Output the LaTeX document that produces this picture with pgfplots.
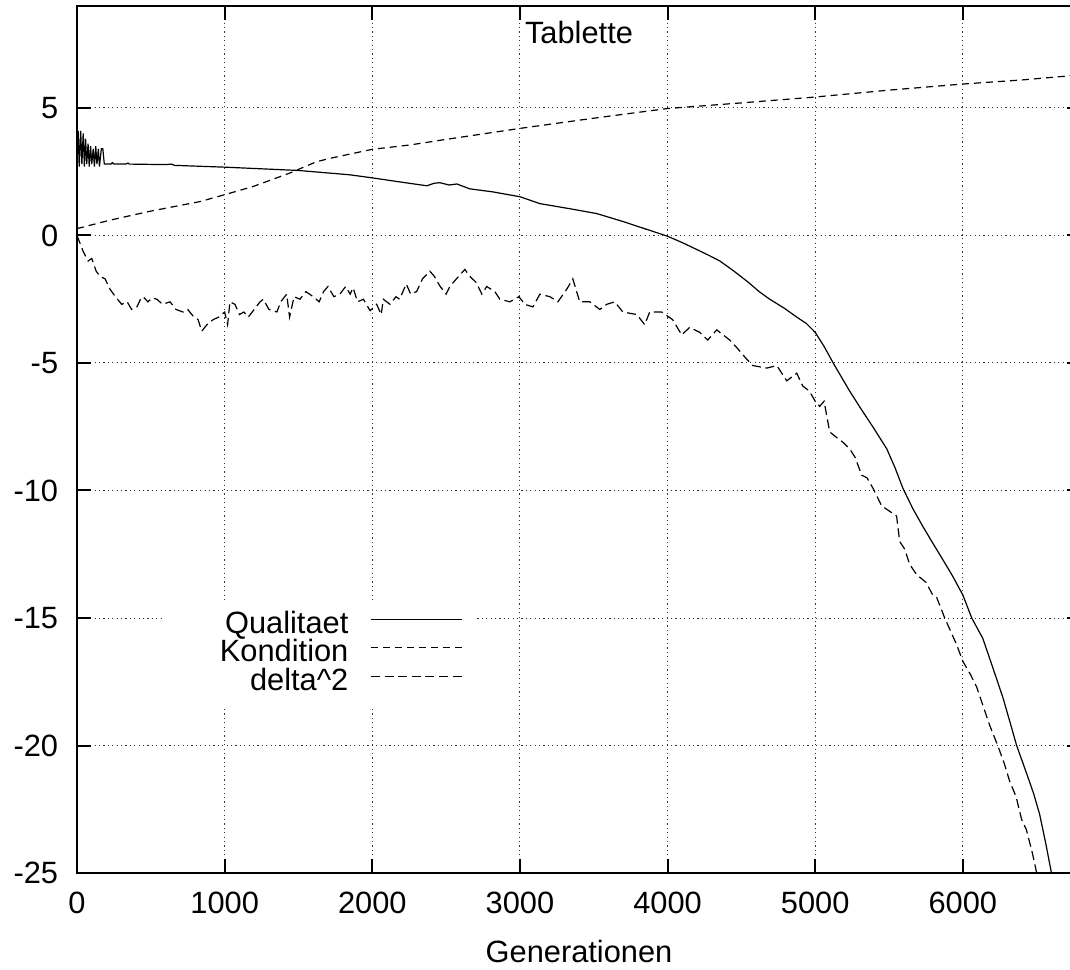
\documentclass[border=0pt]{standalone}
\usepackage{fontspec}
\setmainfont{Liberation Sans}
\usepackage{pgfplots}
\pgfplotsset{compat=1.18}
\newcommand{\ff}{\fontsize{15.4}{18}\selectfont}
\begin{document}
\begin{tikzpicture}
\begin{axis}[
  scale only axis, width=502pt, height=433.5pt,
  xmin=0, xmax=6800, ymin=-25, ymax=9,
  xtick={0,1000,...,6000}, ytick={-25,-20,...,5},
  grid=major,
  major grid style={black!80, line width=0.5pt, dash pattern=on 0.6pt off 1.6pt},
  axis line style={line width=1pt},
  major tick style={line width=1pt, black},
  major tick length=7pt,
  tick align=inside,
  /pgf/number format/assume math mode=true,
  /pgf/number format/1000 sep={},
  font=\ff,
  tick label style={font=\ff},
  xticklabel style={yshift=-5.9pt},
  yticklabel style={xshift=-5.9pt},
  xlabel={Generationen},
  xlabel style={font=\ff, at={(axis description cs:0.5,0)}, anchor=north, yshift=-30pt},
  legend cell align=right,
  legend plot pos=right,
  legend style={at={(axis description cs:0.3964,0.313)}, anchor=north east,
    draw=none, fill=white, inner xsep=6pt, inner ysep=4.5pt,
    nodes={inner sep=0pt, text height=11pt, text depth=3.25pt},
    column sep=11pt, row sep=0pt, font=\ff},
  legend image code/.code={\draw[#1] (0pt,3pt) -- (45.5pt,3pt);},
]
\addplot[black, line width=0.6pt] table {
0 3.5
8 4.1
15 2.7
25 4.1
33 2.8
42 4.0
50 2.7
58 3.8
66 2.8
75 3.6
83 2.7
92 3.5
100 2.8
110 3.4
118 2.7
127 3.5
135 2.8
145 3.4
152 2.7
165 3.4
175 3.4
185 2.8
230 2.8
240 2.86
250 2.8
330 2.8
345 2.84
355 2.8
600 2.78
640 2.8
660 2.75
1000 2.68
1500 2.55
1848 2.38
2000 2.26
2187 2.1
2370 1.95
2420 2.05
2458 2.07
2520 1.98
2573 2.02
2660 1.83
2817 1.71
3000 1.52
3135 1.25
3338 1.05
3520 0.86
3697 0.55
3880 0.2
4000 -0.03
4100 -0.28
4198 -0.55
4280 -0.78
4354 -1.0
4450 -1.4
4550 -1.85
4620 -2.2
4692 -2.5
4790 -2.85
4875 -3.2
4940 -3.45
5000 -3.8
5060 -4.35
5118 -4.96
5152 -5.3
5233 -6.1
5310 -6.8
5390 -7.5
5484 -8.36
5540 -9.1
5593 -9.9
5660 -10.7
5728 -11.4
5800 -12.1
5863 -12.7
5930 -13.35
6000 -14.1
6060 -15.0
6135 -15.8
6200 -16.9
6270 -18.1
6320 -19.1
6364 -20.0
6432 -21.1
6480 -21.9
6520 -22.7
6560 -23.8
6600 -25.0
6620 -25.6
};
\addlegendentry{Qualitaet}
\addplot[black, line width=0.6pt, dash pattern=on 3.5pt off 2.5pt] table {
0 0.27
223 0.6
494 0.95
833 1.33
1000 1.6
1192 1.92
1442 2.45
1625 2.9
1733 3.05
2000 3.38
2255 3.55
2478 3.75
3000 4.2
3500 4.6
4000 4.98
4500 5.2
5000 5.43
5500 5.7
6000 5.94
6400 6.1
6800 6.3
};
\addlegendentry{\hspace*{23pt}Kondition}
\addplot[black, line width=0.6pt, dash pattern=on 4.5pt off 2.3pt] table {
0 0
40 -0.6
75 -1.0
100 -0.9
130 -1.4
155 -1.6
190 -1.7
223 -2.1
260 -2.4
303 -2.7
340 -2.6
370 -2.9
406 -2.8
430 -2.5
447 -2.4
480 -2.6
510 -2.45
541 -2.5
580 -2.7
630 -2.6
670 -2.9
718 -3.0
750 -2.9
785 -3.15
820 -3.3
845 -3.75
880 -3.5
922 -3.3
960 -3.2
1000 -3.0
1020 -3.5
1036 -2.6
1070 -2.7
1100 -3.1
1130 -3.0
1160 -3.2
1200 -2.9
1240 -2.6
1262 -2.5
1300 -2.9
1354 -3.0
1380 -2.6
1420 -2.3
1440 -3.2
1470 -2.4
1510 -2.5
1550 -2.2
1600 -2.4
1640 -2.6
1670 -2.2
1700 -2.0
1740 -2.4
1780 -2.3
1820 -2.0
1850 -2.3
1870 -2.05
1900 -2.6
1940 -2.5
1985 -2.95
2030 -2.7
2060 -3.1
2075 -2.5
2120 -2.7
2160 -2.4
2185 -2.5
2230 -1.9
2260 -2.3
2300 -2.2
2340 -1.7
2390 -1.4
2420 -1.6
2460 -2.0
2500 -2.3
2525 -2.0
2570 -1.7
2627 -1.33
2660 -1.6
2705 -1.85
2742 -2.3
2775 -2.0
2830 -2.2
2864 -2.5
2932 -2.6
2993 -2.4
3033 -2.7
3088 -2.8
3135 -2.3
3203 -2.4
3257 -2.6
3318 -2.1
3358 -1.7
3405 -2.6
3473 -2.6
3541 -2.9
3588 -2.7
3642 -2.6
3697 -3.0
3792 -3.1
3845 -3.5
3879 -3.0
3960 -3.0
4034 -3.3
4096 -3.9
4150 -3.6
4218 -3.8
4272 -4.1
4333 -3.7
4421 -4.1
4469 -4.4
4536 -4.85
4577 -5.1
4672 -5.2
4740 -5.1
4807 -5.7
4875 -5.4
4915 -5.9
4960 -6.1
5000 -6.5
5030 -6.7
5060 -6.5
5098 -7.7
5140 -7.9
5186 -8.1
5233 -8.36
5270 -8.7
5315 -9.4
5350 -9.5
5390 -9.9
5450 -10.6
5500 -10.8
5551 -11.0
5572 -12.0
5606 -12.3
5640 -12.9
5687 -13.3
5750 -13.6
5796 -14.1
5823 -14.2
5877 -15.0
5958 -16.05
6000 -16.7
6050 -17.2
6093 -17.7
6140 -18.5
6181 -19.2
6236 -20.0
6280 -20.7
6317 -21.4
6360 -22.0
6398 -22.9
6430 -23.3
6470 -24.2
6500 -25.0
6520 -25.8
};
\addlegendentry{delta\textasciicircum 2}
\node[font=\ff, anchor=north, inner sep=0pt] at (rel axis cs:0.5,1) [yshift=-6pt] {\strut Tablette};
\end{axis}
\pgfresetboundingbox
\path (-38.5pt,-48pt) rectangle (496.5pt,436.5pt);
\end{tikzpicture}
\end{document}
